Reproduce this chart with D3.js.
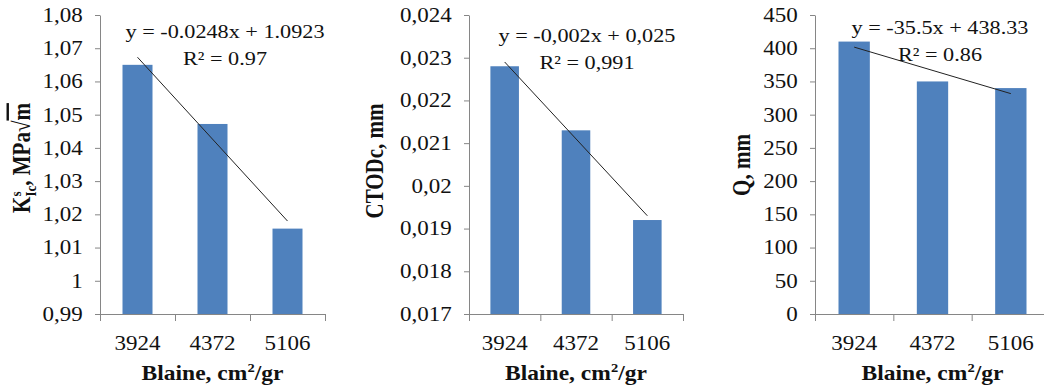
<!DOCTYPE html>
<html>
<head>
<meta charset="utf-8">
<script src="https://cdn.jsdelivr.net/npm/d3@7"></script>
<style>
  body { margin: 0; background: #fff; }
</style>
</head>
<body>
<div id="chart"></div>
<script>
// categories (Blaine fineness) shared by the three panels
var categories = ["3924", "4372", "5106"];

// bar heights
var kValues = [1.065, 1.0472, 1.0157];
var ctodValues = [0.0228, 0.0213, 0.0192];
var qValues = [410, 350, 340];

// y tick values
var kTicks = [0.99, 1, 1.01, 1.02, 1.03, 1.04, 1.05, 1.06, 1.07, 1.08];
var ctodTicks = [0.017, 0.018, 0.019, 0.02, 0.021, 0.022, 0.023, 0.024];
var qTicks = [0, 50, 100, 150, 200, 250, 300, 350, 400, 450];

// trendline labels as printed on the chart
var kEquation = ["y = -0.0248x + 1.0923", "R\u00b2 = 0.97"];
var ctodEquation = ["y = -0,002x + 0,025", "R\u00b2 = 0,991"];
var qEquation = ["y = -35.5x + 438.33", "R\u00b2 = 0.86"];

var W = 1044, H = 389;
var plotTop = 15, plotBottom = 314;
var sx = 1.15;          // the original picture is a bit wider than tall
var serif = "'Liberation Serif', 'Times New Roman', serif";
var barColor = "#4F81BD";
var axisColor = "#868686";

var fmt = function (v) { return String(+v.toFixed(4)).replace(".", ","); };

var panels = [
    {values: kValues, ticks: kTicks, eq: kEquation, x0: 100, x1: 325, eqX: 225, eqY: 38, title: "k", titleX: 30, titleY: 158},
    {values: ctodValues, ticks: ctodTicks, eq: ctodEquation, x0: 469, x1: 683, eqX: 587, eqY: 42, title: "CTODc, mm", titleX: 383, titleY: 161},
    {values: qValues, ticks: qTicks, eq: qEquation, x0: 815, x1: 1050, eqX: 940, eqY: 34, title: "Q, mm", titleX: 750, titleY: 165}
];

var svg = d3.select("#chart")
    .append("svg")
    .attr("width", W)
    .attr("height", H)
    .style("background", "#fff");

panels.forEach(function (p) {

    var x = d3.scaleBand()
        .domain(categories)
        .range([p.x0, p.x1])
        .paddingInner(0.6)
        .paddingOuter(0.3);

    var y = d3.scaleLinear()
        .domain([p.ticks[0], p.ticks[p.ticks.length - 1]])
        .range([plotBottom, plotTop]);

    var g = svg.append("g");

    // bars
    g.selectAll("rect.bar")
        .data(p.values)
        .enter()
        .append("rect")
        .attr("class", "bar")
        .attr("x", function (d, i) { return x(categories[i]); })
        .attr("width", x.bandwidth())
        .attr("y", function (d) { return y(d); })
        .attr("height", function (d) { return plotBottom - y(d); })
        .attr("fill", barColor);

    // y axis
    var ya = g.append("g")
        .attr("transform", "translate(" + p.x0 + ",0)")
        .call(d3.axisLeft(y).tickValues(p.ticks).tickFormat(fmt).tickSize(5).tickSizeOuter(0).tickPadding(10));
    ya.select(".domain").attr("stroke", axisColor);
    ya.selectAll(".tick line").attr("stroke", axisColor);
    ya.selectAll(".tick text")
        .attr("font-family", serif)
        .attr("font-size", 20)
        .attr("fill", "#111")
        .attr("transform", "scale(" + sx + ",1)");

    // x axis: line, boundary ticks, category labels
    var step = x.step();
    g.append("line")
        .attr("x1", p.x0).attr("x2", p.x1)
        .attr("y1", plotBottom + 0.5).attr("y2", plotBottom + 0.5)
        .attr("stroke", axisColor);

    g.selectAll("line.xtick")
        .data(d3.range(categories.length + 1))
        .enter()
        .append("line")
        .attr("class", "xtick")
        .attr("x1", function (i) { return p.x0 + i * step + 0.5; })
        .attr("x2", function (i) { return p.x0 + i * step + 0.5; })
        .attr("y1", plotBottom)
        .attr("y2", plotBottom + 7)
        .attr("stroke", axisColor);

    g.selectAll("text.xlab")
        .data(categories)
        .enter()
        .append("text")
        .attr("class", "xlab")
        .attr("transform", function (c) { return "translate(" + (x(c) + x.bandwidth() / 2) + ",350) scale(" + sx + ",1)"; })
        .attr("text-anchor", "middle")
        .attr("font-family", serif)
        .attr("font-size", 20)
        .attr("fill", "#111")
        .text(function (c) { return c; });

    // x title
    var xt = g.append("text")
        .attr("transform", "translate(" + ((p.x0 + p.x1) / 2) + ",380) scale(1.12,1)")
        .attr("text-anchor", "middle")
        .attr("font-family", serif)
        .attr("font-weight", "bold")
        .attr("font-size", 21)
        .attr("fill", "#111");
    xt.append("tspan").text("Blaine, cm");
    xt.append("tspan").attr("font-size", 13).attr("dy", -8).text("2");
    xt.append("tspan").attr("dy", 8).text("/gr");

    // y title
    var yt = g.append("text")
        .attr("transform", "translate(" + p.titleX + "," + p.titleY + ") scale(" + sx + ",1) rotate(-90)")
        .attr("text-anchor", "middle")
        .attr("font-family", serif)
        .attr("font-weight", "bold")
        .attr("font-size", 21)
        .attr("fill", "#111");
    if (p.title === "k") {
        yt.append("tspan").text("K");
        yt.append("tspan").attr("font-size", 13).attr("dy", -8).text("s");
        yt.append("tspan").attr("font-size", 13).attr("dx", -5).attr("dy", 13).text("Ic");
        yt.append("tspan").attr("dy", -5).text(", MPa\u221a");
        yt.append("tspan").style("text-decoration", "overline").text("m");
    } else {
        yt.text(p.title);
    }

    // linear trendline, least squares over category index 1..n
    var n = p.values.length;
    var xs = d3.range(1, n + 1);
    var mx = d3.mean(xs), my = d3.mean(p.values);
    var sxy = d3.sum(xs, function (xi, i) { return (xi - mx) * (p.values[i] - my); });
    var sxx = d3.sum(xs, function (xi) { return (xi - mx) * (xi - mx); });
    var slope = sxy / sxx, icpt = my - slope * mx;
    var ends = [0, n - 1];
    g.append("path")
        .datum(ends)
        .attr("d", d3.line()
            .x(function (i) { return x(categories[i]) + x.bandwidth() / 2; })
            .y(function (i) { return y(slope * (i + 1) + icpt); }))
        .attr("fill", "none")
        .attr("stroke", "#222")
        .attr("stroke-width", 1);

    // equation label
    g.selectAll("text.eq")
        .data(p.eq)
        .enter()
        .append("text")
        .attr("class", "eq")
        .attr("transform", function (d, i) { return "translate(" + p.eqX + "," + (p.eqY + i * 27) + ") scale(1.17,1)"; })
        .attr("text-anchor", "middle")
        .attr("font-family", serif)
        .attr("font-size", 19)
        .attr("fill", "#111")
        .text(function (d) { return d; });
});
</script>
</body>
</html>
